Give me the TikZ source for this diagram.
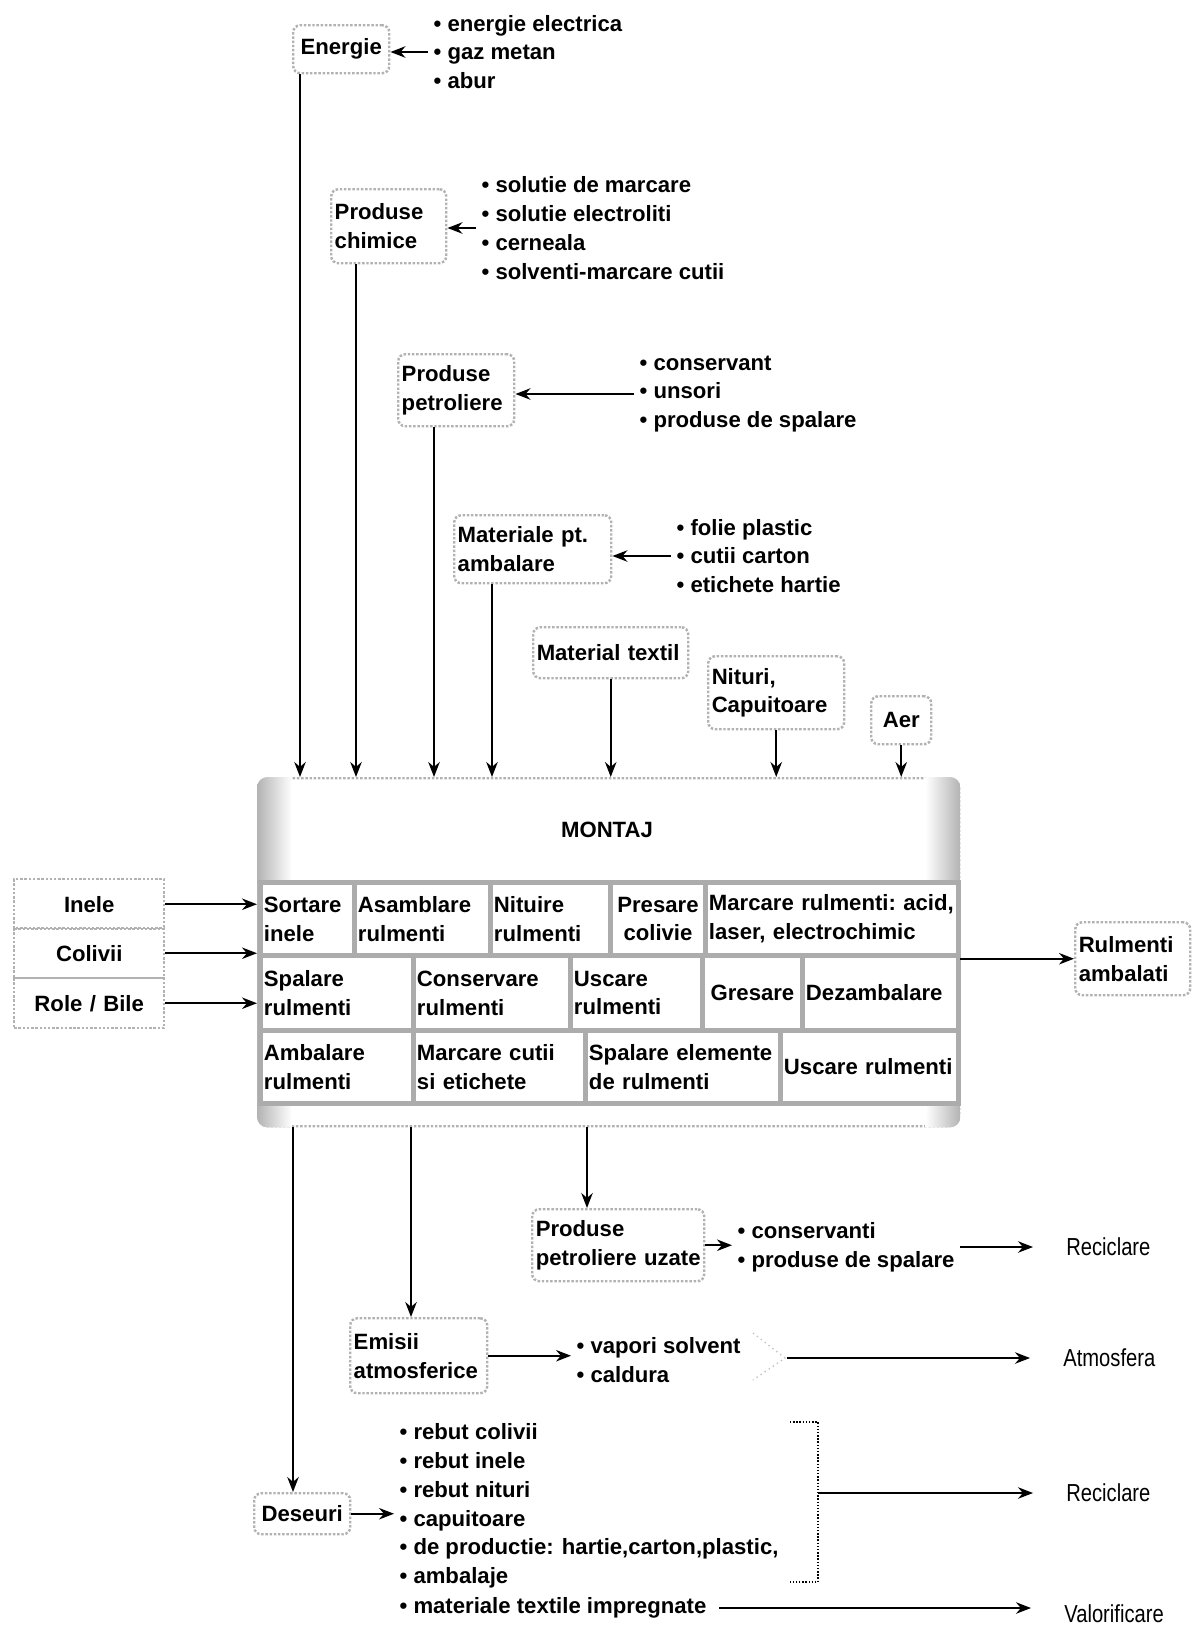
\documentclass[tikz,border=0pt]{standalone}
\usepackage{fontspec}
\setmainfont{Liberation Sans}
\newfontfamily\narrowfont[FakeStretch=0.82]{Liberation Sans}
\usetikzlibrary{arrows.meta}

\begin{document}
\begin{tikzpicture}[
  x=0.02cm,
  y=-0.02cm,
  every node/.style={
    font=\bfseries\fontsize{12.6}{16.4}\selectfont
  },
  box/.style={
    draw=gray!60,
    densely dotted,
    line width=1.4pt,
    rounded corners=4pt,
    inner xsep=2pt,
    inner ysep=0pt,
    align=left,
    anchor=north west
  },
  boxsize/.style 2 args={
    minimum width=#1*0.02cm,
    text width=#1*0.02cm-4pt,
    minimum height=#2*0.02cm
  },
  inbox/.style={
    box,
    sharp corners,
    align=center,
    boxsize={150}{50}
  },
  cell/.style={
    draw=gray!65,
    line width=2.8pt,
    fill=white,
    inner xsep=2pt,
    inner ysep=0pt,
    align=left,
    anchor=north west
  },
  list/.style={
    inner xsep=3pt,
    inner ysep=0pt,
    align=left,
    anchor=west
  },
  dest/.style={
    inner sep=0pt,
    anchor=west,
    font=\narrowfont\fontsize{14}{16}\selectfont
  },
  flow/.style={
    -{Stealth[length=3mm,width=2.3mm]},
    line width=0.9pt
  },
  faint/.style={
    draw=gray!45,
    dotted,
    line width=0.8pt
  },
  bracket/.style={
    densely dotted,
    line width=0.8pt
  }
]

\path[use as bounding box] (0,0) rectangle (1191,1633);

% inputs on top
\node[box, boxsize={96}{48}, align=center] (ener) at (292,24) {Energie};
\node[box, boxsize={115}{74}] (chim) at (330,188) {Produse\\chimice};
\node[box, boxsize={116}{72}] (petr) at (397,353) {Produse\\petroliere};
\node[box, boxsize={157}{68}] (ambal) at (453,514) {Materiale pt.\\ambalare};
\node[box, boxsize={155}{51}] (textil) at (532,626) {Material textil};
\node[box, boxsize={136}{73}] (nituri) at (707,655) {Nituri,\\Capuitoare};
\node[box, boxsize={60}{48}, align=center] (aer) at (870,695) {Aer};

\node[list] (enerlist) at (428,52) {• energie electrica\\• gaz metan\\• abur};
\node[list] (chimlist) at (476,228)
  {• solutie de marcare\\• solutie electroliti\\• cerneala\\• solventi-marcare cutii};
\node[list] (petrlist) at (634,394) {• conservant\\• unsori\\• produse de spalare};
\node[list] (amblist) at (671,556) {• folie plastic\\• cutii carton\\• etichete hartie};

\draw[flow] (enerlist.west) -- (enerlist.west -| ener.east);
\draw[flow] (chimlist.west) -- (chimlist.west -| chim.east);
\draw[flow] (petrlist.west) -- (petrlist.west -| petr.east);
\draw[flow] (amblist.west) -- (amblist.west -| ambal.east);

% MONTAJ
\node[box, boxsize={701}{348}, rounded corners=6pt] (montaj) at (257,777) {};
\begin{scope}
  \clip[rounded corners=6pt] (montaj.north west) rectangle (montaj.south east);
  \shade[left color=gray!60, right color=white]
    (montaj.north west) rectangle ([xshift=0.7cm]montaj.south west);
  \shade[left color=white, right color=gray!60]
    ([xshift=-0.7cm]montaj.north east) rectangle (montaj.south east);
\end{scope}
\node (title) at (607,830) {MONTAJ};

\node[cell, boxsize={94}{73}] (sort) at (258,880) {Sortare\\inele};
\node[cell, boxsize={136}{73}] (asam) at (352,880) {Asamblare\\rulmenti};
\node[cell, boxsize={120}{73}] (nit) at (488,880) {Nituire\\rulmenti};
\node[cell, boxsize={95}{73}, align=center] (pres) at (608,880) {Presare\\colivie};
\node[cell, boxsize={253}{73}] (marc) at (703,880)
  {Marcare~rulmenti:~acid,\\laser, electrochimic};
\node[cell, boxsize={153}{75}] (spal) at (258,953) {Spalare\\rulmenti};
\node[cell, boxsize={157}{75}] (cons) at (411,953) {Conservare\\rulmenti};
\node[cell, boxsize={132}{75}] (usc) at (568,953) {Uscare\\rulmenti};
\node[cell, boxsize={100}{75}, align=center] (gres) at (700,953) {Gresare};
\node[cell, boxsize={156}{75}] (dez) at (800,953) {Dezambalare};
\node[cell, boxsize={153}{73}] (amb) at (258,1028) {Ambalare\\rulmenti};
\node[cell, boxsize={172}{73}] (mcut) at (411,1028) {Marcare cutii\\si etichete};
\node[cell, boxsize={195}{73}] (spel) at (583,1028) {Spalare~elemente\\de rulmenti};
\node[cell, boxsize={178}{73}] (usc2) at (778,1028) {Uscare~rulmenti};

\draw[flow] (ener.south west) ++(8,0) coordinate (enerdown) -- (enerdown |- montaj.north);
\draw[flow] (chim.south west) ++(26,0) coordinate (chimdown) -- (chimdown |- montaj.north);
\draw[flow] (petr.south west) ++(37,0) coordinate (petrdown) -- (petrdown |- montaj.north);
\draw[flow] (ambal.south west) ++(39,0) coordinate (ambdown) -- (ambdown |- montaj.north);
\draw[flow] (textil.south) -- (textil.south |- montaj.north);
\draw[flow] (nituri.south) -- (nituri.south |- montaj.north);
\draw[flow] (aer.south) -- (aer.south |- montaj.north);

% inputs on the left, output on the right
\node[inbox] (inele) at (13,878) {Inele};
\node[inbox] (colivii) at (13,927) {Colivii};
\node[inbox] (role) at (13,977) {Role / Bile};

\draw[flow] (inele.east) -- (inele.east -| montaj.west);
\draw[flow] (colivii.east) -- (colivii.east -| montaj.west);
\draw[flow] (role.east) -- (role.east -| montaj.west);

\node[box, boxsize={115}{73}] (rulm) at (1074,921) {Rulmenti\\ambalati};
\draw[flow] (montaj.east |- rulm.west) -- (rulm.west);

% outputs
\node[box, boxsize={172}{72}] (uzate) at (531,1208) {Produse\\petroliere~uzate};
\node[box, boxsize={137}{75}] (emisii) at (349,1317) {Emisii\\atmosferice};
\node[box, boxsize={96}{41}, align=center] (deseuri) at (253,1492) {Deseuri};

\draw[flow] (montaj.south west) ++(36,0) coordinate (desdown) -- (desdown |- deseuri.north);
\draw[flow] (montaj.south west) ++(154,0) coordinate (emdown) -- (emdown |- emisii.north);
\draw[flow] (montaj.south west) ++(330,0) coordinate (uzdown) -- (uzdown |- uzate.north);

\node[list] (uzlist) at (732,1247) {• conservanti\\• produse de spalare};
\node[list] (emlist) at (571,1360) {• vapori solvent\\• caldura};
\node[list] (deslist) at (394,1506)
  {• rebut colivii\\• rebut inele\\• rebut nituri\\• capuitoare\\%
   • de productie: hartie,carton,plastic,\\• ambalaje};
\node[list] (textimp) at (394,1608) {• materiale textile impregnate};

\draw[flow] (uzate.east) -- (uzate.east -| uzlist.west);
\draw[flow] (emisii.east) -- (emisii.east -| emlist.west);
\draw[flow] (deseuri.east) -- (deseuri.east -| deslist.west);

\node[dest] (recicuz) at (1066,1247) {Reciclare};
\node[dest] (atmos) at (1063,1358) {Atmosfera};
\node[dest] (recicdes) at (1066,1493) {Reciclare};
\node[dest] (valor) at (1064,1614) {Valorificare};

\draw[flow] (uzlist.east) -- ([xshift=-0.66cm]recicuz.west);

\draw[faint] (753,1333) -- (785,1358) -- (753,1380);
\coordinate (chev) at (787,1358);
\draw[flow] (chev) -- ([xshift=-0.66cm]atmos.west);

\draw[bracket] (790,1422) -| (818,1582) -- (790,1582);
\coordinate (brmid) at (818,1493);
\draw[flow] (brmid) -- ([xshift=-0.66cm]recicdes.west);

\coordinate (valend) at ([xshift=-0.66cm]valor.west);
\draw[flow] ([xshift=4pt]textimp.east) -- (valend |- textimp.east);

\end{tikzpicture}
\end{document}
